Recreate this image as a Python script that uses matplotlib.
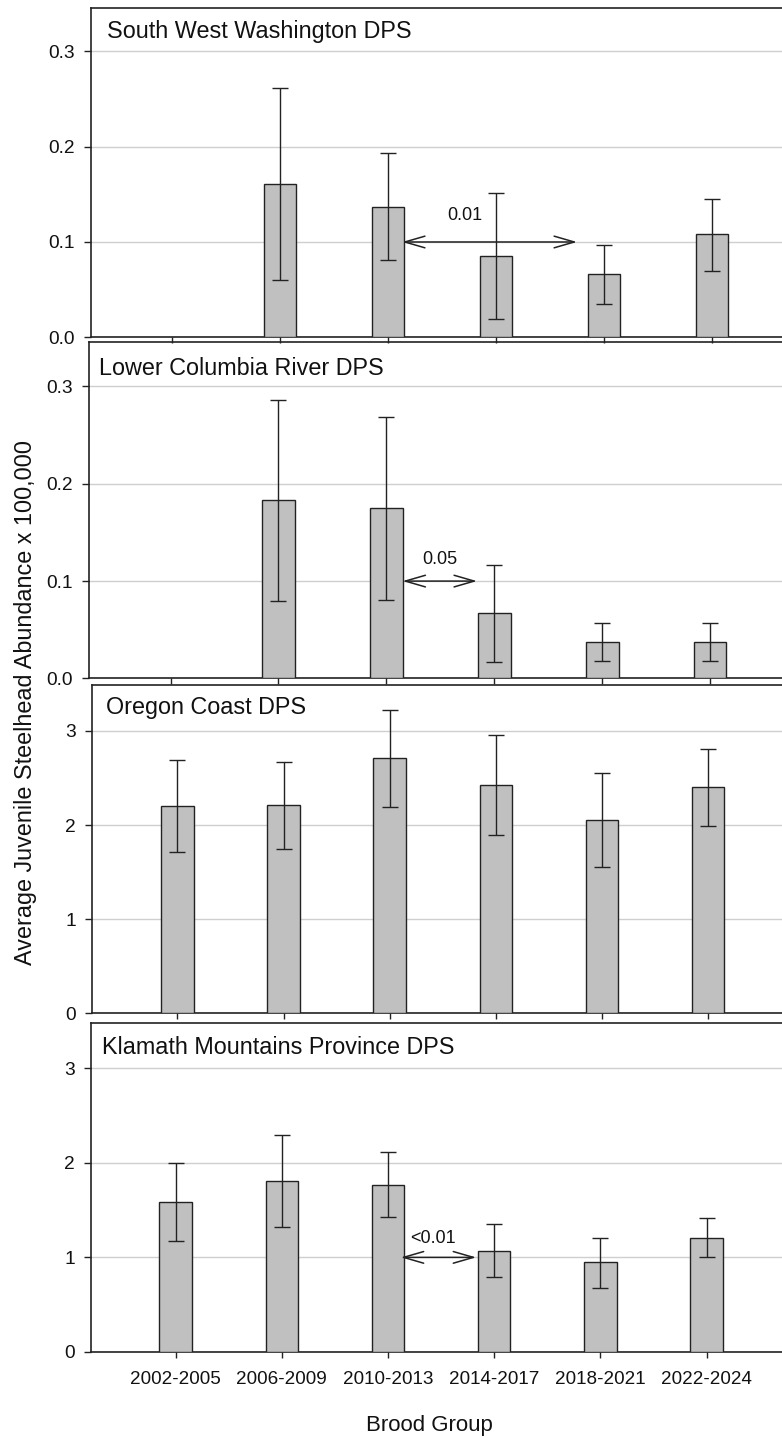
import numpy as np
import matplotlib
matplotlib.use("Agg")
import matplotlib.pyplot as plt
from matplotlib.ticker import FormatStrFormatter

plt.rcParams['font.family'] = ['Liberation Sans', 'DejaVu Sans']

# ---------------- data ----------------
categories = ['2002-2005', '2006-2009', '2010-2013', '2014-2017', '2018-2021', '2022-2024']
nan = np.nan

swwa_mean = [nan, 0.161, 0.137, 0.085, 0.066, 0.108]
swwa_lo   = [nan, 0.060, 0.081, 0.019, 0.035, 0.070]
swwa_hi   = [nan, 0.262, 0.193, 0.151, 0.097, 0.145]

lcr_mean = [nan, 0.183, 0.175, 0.067, 0.037, 0.037]
lcr_lo   = [nan, 0.080, 0.081, 0.017, 0.018, 0.018]
lcr_hi   = [nan, 0.286, 0.269, 0.117, 0.0565, 0.0565]

oc_mean = [2.20, 2.21, 2.71, 2.43, 2.05, 2.40]
oc_lo   = [1.71, 1.75, 2.19, 1.89, 1.55, 1.99]
oc_hi   = [2.69, 2.67, 3.22, 2.96, 2.55, 2.81]

kmp_mean = [1.58, 1.81, 1.77, 1.07, 0.95, 1.21]
kmp_lo   = [1.17, 1.32, 1.43, 0.79, 0.68, 1.00]
kmp_hi   = [2.00, 2.29, 2.11, 1.35, 1.21, 1.42]

titles = ['South West Washington DPS', 'Lower Columbia River DPS',
          'Oregon Coast DPS', 'Klamath Mountains Province DPS']
p_labels = ['0.01', '0.05', None, '<0.01']
# comparison arrows: (from x, to x, at y)
p_arrows = [(2.13, 3.75, 0.1), (2.15, 2.84, 0.1), None, (2.12, 2.83, 1.0)]
# label anchor (left x, baseline y)
p_text = [(2.55, 0.123), (2.33, 0.118), None, (2.21, 1.155)]

means = [swwa_mean, lcr_mean, oc_mean, kmp_mean]
los = [swwa_lo, lcr_lo, oc_lo, kmp_lo]
his = [swwa_hi, lcr_hi, oc_hi, kmp_hi]
yticks = [[0, 0.1, 0.2, 0.3], [0, 0.1, 0.2, 0.3], [0, 1, 2, 3], [0, 1, 2, 3]]
yfmt = ['%.1f', '%.1f', '%d', '%d']

# ---------------- layout (pixels) ----------------
W, H = 782, 1438
# left spine x, top y, bottom y, xmin, xmax, ymax
layout = [
    (91.0, 8.0, 337.3, -0.75, 5.648, 0.3455),
    (89.3, 342.0, 678.4, -0.753, 5.667, 0.3457),
    (92.0, 685.0, 1013.3, -0.805, 5.698, 3.487),
    (91.0, 1022.7, 1352.0, -0.797, 5.71, 3.48),
]
title_pos = [(106.7, 38.3), (99.3, 375.0), (106.3, 714.3), (102.4, 1053.7)]

fig = plt.figure(figsize=(W / 100, H / 100), dpi=100)
fig.patch.set_facecolor('white')

edge = '#222222'
x = np.arange(len(categories))

for i in range(4):
    left, top, bot, xmin, xmax, ymax = layout[i]
    ax = fig.add_axes([left / W, 1 - bot / H, (W - left) / W, (bot - top) / H])
    ax.set_facecolor('none')
    m = np.array(means[i], dtype=float)
    lo = np.array(los[i], dtype=float)
    hi = np.array(his[i], dtype=float)
    ax.bar(x, m, width=0.305, color='#c0c0c0', edgecolor=edge, linewidth=1.0, zorder=3)
    ax.errorbar(x, m, yerr=[m - lo, hi - m], fmt='none', ecolor='#222222',
                elinewidth=1.0, capsize=5.6, capthick=1.0, zorder=4)
    ax.set_xlim(xmin, xmax)
    ax.set_ylim(0, ymax)
    ax.set_yticks(yticks[i])
    ax.yaxis.set_major_formatter(FormatStrFormatter(yfmt[i]))
    ax.set_xticks(x)
    if i == 3:
        ax.set_xticklabels(categories, fontsize=13.6)
    else:
        ax.set_xticklabels([])
    ax.grid(axis='y', color='#cfcfcf', linewidth=1.0, zorder=0)
    ax.set_axisbelow(True)
    ax.tick_params(axis='y', direction='out', length=5.2, width=1.0, pad=6.5,
                   labelsize=13.8, color=edge, labelcolor='#111111')
    ax.tick_params(axis='x', direction='out', length=4.5, width=1.0, pad=9.5,
                   color=edge, labelcolor='#111111')
    for s in ['left', 'bottom', 'top']:
        ax.spines[s].set_color(edge)
        ax.spines[s].set_linewidth(1.2)
    ax.spines['right'].set_visible(False)

    tx, ty = title_pos[i]
    fig.text(tx / W, 1 - ty / H, titles[i], fontsize=16.8, ha='left', va='baseline',
             color='#111111')

    if p_arrows[i] is not None:
        x0, x1, yv = p_arrows[i]
        ax.annotate('', xy=(x1, yv), xytext=(x0, yv),
                    arrowprops=dict(arrowstyle='<->,head_length=1.45,head_width=0.42',
                                    mutation_scale=10, lw=1.1, color='#222222',
                                    shrinkA=0, shrinkB=0), zorder=5)
        lx, ly = p_text[i]
        ax.text(lx, ly, p_labels[i], fontsize=13, ha='left', va='baseline',
                color='#111111', zorder=5)

fig.text(26 / W, 1 - 702.5 / H, 'Average Juvenile Steelhead Abundance x 100,000',
         rotation=90, ha='center', va='center', fontsize=16.85, color='#111111')
fig.text(429 / W, 1 - 1431 / H, 'Brood Group', ha='center', va='baseline',
         fontsize=16.0, color='#111111')

fig.savefig('out.png', dpi=100, facecolor='white')
